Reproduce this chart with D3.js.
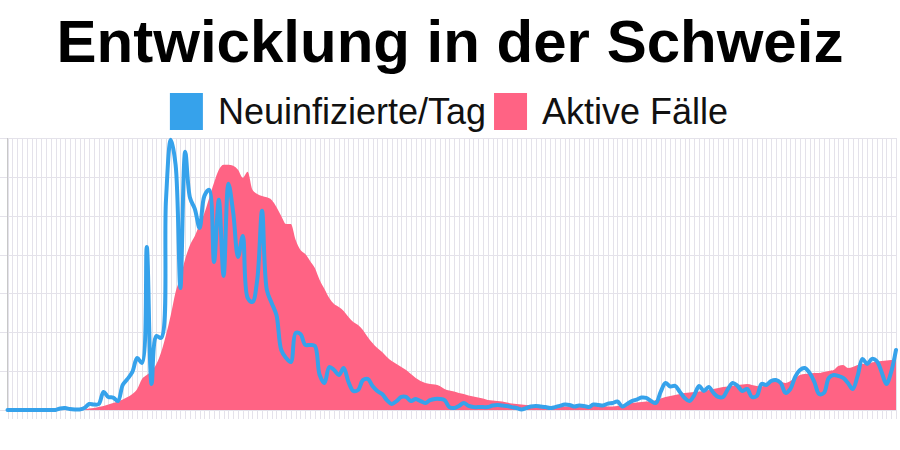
<!DOCTYPE html>
<html>
<head>
<meta charset="utf-8">
<script src="https://cdn.jsdelivr.net/npm/d3@7"></script>
<style>
  html, body { margin: 0; padding: 0; background: #ffffff; }
  svg { display: block; font-family: "Liberation Sans", Arial, sans-serif; }
</style>
</head>
<body>
<svg id="chart" width="900" height="450"></svg>
<script>
// ---- data ----
const title = "Entwicklung in der Schweiz";
const seriesNames = ["Neuinfizierte/Tag", "Aktive Fälle"];
const seriesColors = ["#36A2EB", "#FF6384"];

const newCases = [
  0,0,0,0,0,0,0,0,0,0,
  0,8,10,5,3,3,10,31,28,31,
  93,67,64,46,129,160,196,268,242,839,
  134,381,371,1082,1391,1262,628,1329,1092,1035,
  937,1102,1133,762,1082,690,1164,1015,788,896,
  577,556,670,1025,618,551,489,309,268,247,
  397,391,335,335,330,180,139,221,206,180,
  216,144,98,103,154,160,124,98,82,51,
  31,46,67,67,46,57,46,36,51,57,
  57,51,15,10,21,36,21,15,15,15,
  15,23,26,23,21,15,10,3,10,18,
  21,18,15,10,15,21,28,26,18,23,
  21,15,28,26,23,33,36,44,18,31,
  46,54,64,62,46,36,93,139,121,124,
  93,62,46,77,124,98,118,88,67,67,
  108,139,124,98,108,67,72,134,129,149,
  154,139,88,108,170,206,216,191,144,82,
  88,165,180,175,165,139,108,175,263,237,
  263,252,196,134,196,309
];

const activeCases = [
  0,0,0,0,0,0,0,0,0,0,
  0,0,0,0,0,0,26,77,103,155,
  206,283,361,438,541,670,824,1082,1597,1803,
  2009,2369,2987,3863,4893,6077,6850,7777,8498,8961,
  9579,10146,10918,11691,12360,12618,12618,12566,12360,11948,
  12257,11330,11124,11021,10944,10815,10454,9991,9579,9579,
  8755,8240,8034,7674,7313,6695,6232,5768,5459,5305,
  5099,4790,4532,4378,4120,3760,3451,3193,2987,2730,
  2524,2369,2215,2060,1854,1648,1494,1391,1339,1313,
  1236,1082,1004,953,876,824,747,695,644,592,
  515,489,464,438,386,335,309,283,258,258,
  232,206,206,196,190,190,185,185,190,195,
  195,200,200,195,190,180,180,206,258,309,
  361,386,412,438,438,515,592,670,721,773,
  824,876,901,927,953,979,1030,1082,1133,1185,
  1210,1236,1288,1313,1339,1288,1236,1210,1339,1494,
  1545,1468,1391,1494,1648,1803,1854,1880,1906,1906,
  1957,2009,2060,2266,2318,2163,2215,2318,2369,2395,
  2446,2498,2524,2549,2575,2575
];

// daily categories starting 25 Feb 2020
const startDate = new Date(2020, 1, 25);
const categories = newCases.map((_, i) => d3.timeFormat("%d.%m.")(d3.timeDay.offset(startDate, i)));

const newTicks = [0, 200, 400, 600, 800, 1000, 1200, 1400];
const activeMax = 14000;

// ---- layout ----
const svg = d3.select("#chart");
const W = 900, H = 450;
const plot = { left: 7.5, right: 896, top: 138, bottom: 410 };

const x = d3.scalePoint().domain(categories).range([plot.left, plot.right]);
const yNew = d3.scaleLinear().domain([0, newTicks[newTicks.length - 1]]).range([plot.bottom, plot.top]);
const yAct = d3.scaleLinear().domain([0, activeMax]).range([plot.bottom, plot.top]);

// title
svg.append("text")
  .attr("x", W / 2).attr("y", 62)
  .attr("text-anchor", "middle")
  .attr("font-size", 60).attr("font-weight", "bold")
  .attr("fill", "#000")
  .text(title);

// legend
const legend = svg.append("g");
const boxW = 33, boxH = 37, gapText = 15, gapItem = 8, fs = 36;
let cursor = 0;
const items = [];
seriesNames.forEach((name, i) => {
  const g = legend.append("g");
  g.append("rect").attr("x", 0).attr("y", 93).attr("width", boxW).attr("height", boxH).attr("fill", seriesColors[i]);
  const t = g.append("text").attr("x", boxW + gapText).attr("y", 124)
    .attr("font-size", fs).attr("fill", "#111").text(name);
  const w = boxW + gapText + t.node().getComputedTextLength();
  items.push({ g, w });
});
const totalW = d3.sum(items, d => d.w) + gapItem * (items.length - 1);
cursor = 449 - totalW / 2;
items.forEach(it => { it.g.attr("transform", `translate(${cursor},0)`); cursor += it.w + gapItem; });

// grid: vertical (one per category) and horizontal
const grid = svg.append("g");
grid.selectAll("line.v").data(categories).join("line")
  .attr("x1", d => Math.round(x(d)) + 0.5).attr("x2", d => Math.round(x(d)) + 0.5)
  .attr("y1", plot.top).attr("y2", plot.bottom + 9)
  .attr("stroke", "#e4e2ea").attr("stroke-width", 1);
grid.selectAll("line.h").data(newTicks).join("line")
  .attr("x1", 0).attr("x2", plot.right)
  .attr("y1", d => Math.round(yNew(d)) + 0.5).attr("y2", d => Math.round(yNew(d)) + 0.5)
  .attr("stroke", "#e4e2ea").attr("stroke-width", 1);
// y zero axis line
svg.append("line")
  .attr("x1", 7.5).attr("x2", 7.5).attr("y1", plot.top).attr("y2", plot.bottom)
  .attr("stroke", "#c8c8c8").attr("stroke-width", 1);

// active cases area
const area = d3.area()
  .x((d, i) => x(categories[i]))
  .y0(plot.bottom)
  .y1(d => yAct(d))
  .curve(d3.curveMonotoneX);
svg.append("path").datum(activeCases)
  .attr("d", area).attr("fill", seriesColors[1]);

// new cases line
const line = d3.line()
  .x((d, i) => x(categories[i]))
  .y(d => yNew(d))
  .curve(d3.curveCatmullRom.alpha(0.5));
svg.append("path").datum(newCases)
  .attr("d", line).attr("fill", "none")
  .attr("stroke", seriesColors[0]).attr("stroke-width", 4)
  .attr("stroke-linejoin", "round").attr("stroke-linecap", "round");
</script>
</body>
</html>
